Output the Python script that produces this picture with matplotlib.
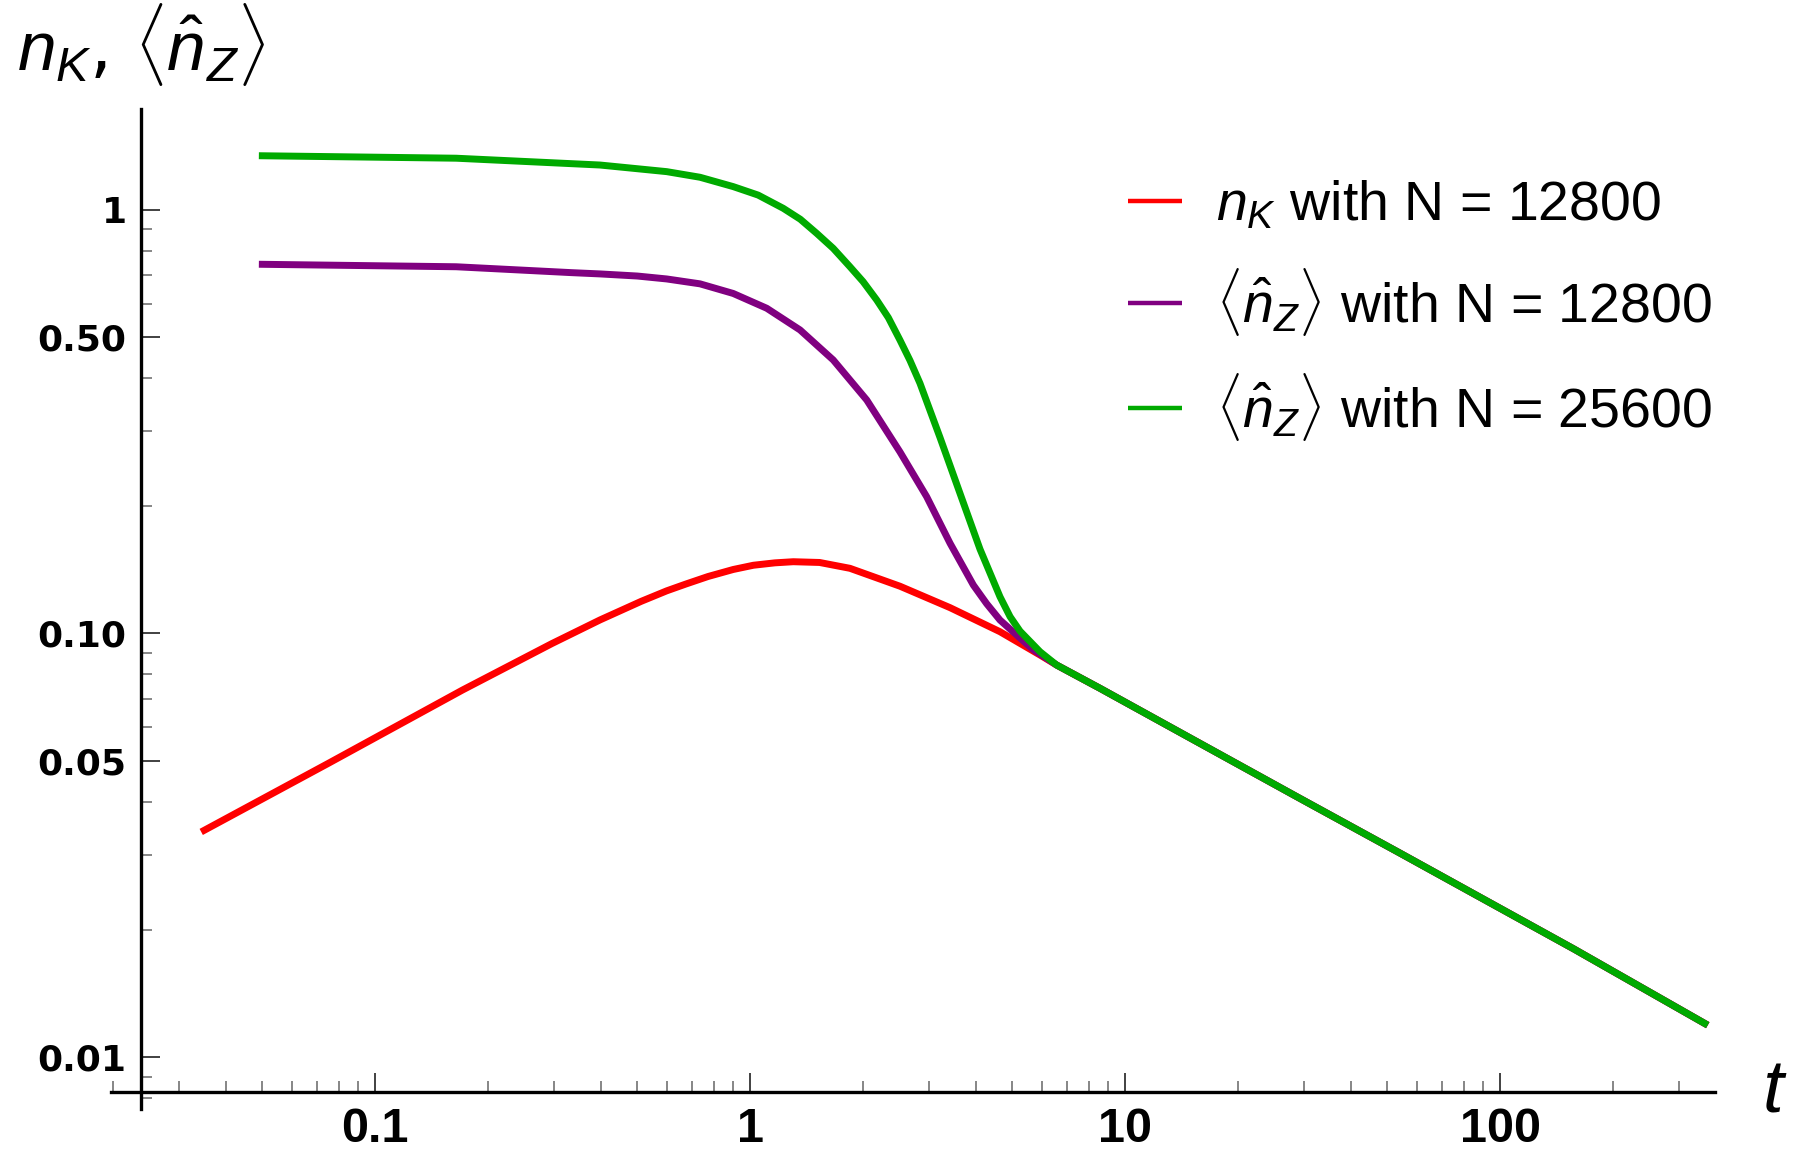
import matplotlib
matplotlib.use("Agg")
import matplotlib.pyplot as plt
from matplotlib import font_manager as fm
from matplotlib.ticker import FixedLocator, FixedFormatter, LogLocator, NullFormatter

plt.rcParams['mathtext.fontset'] = 'custom'
plt.rcParams['mathtext.rm'] = 'Liberation Sans'
plt.rcParams['mathtext.it'] = 'Liberation Sans:italic'

# values
t_red = [0.0344, 0.0752, 0.171, 0.296, 0.398, 0.512, 0.599, 0.673, 0.772, 0.901, 1.02, 1.164, 1.303, 1.531, 1.845,
         2.508, 3.41, 4.634, 5.925, 6.56, 8.56, 15.82, 29.2, 54.0, 157, 357]
n_red = [0.034, 0.0494, 0.0735, 0.0946, 0.1076, 0.119, 0.1260, 0.1307, 0.1362, 0.1415, 0.1448, 0.1467, 0.1476, 0.147, 0.1424,
         0.1292, 0.1150, 0.1009, 0.0889, 0.0842, 0.0742, 0.0550, 0.0408, 0.0303, 0.0180, 0.0119]

t_purple = [0.049, 0.1645, 0.333, 0.398, 0.5, 0.599, 0.735, 0.901, 1.107, 1.358, 1.665, 2.045, 2.508, 2.954, 3.41, 3.935,
            4.27, 4.634, 5.241, 5.685, 6.56, 8.56, 15.82, 29.2, 54.0, 157, 357]
n_purple = [0.743, 0.733, 0.710, 0.705, 0.697, 0.686, 0.668, 0.634, 0.585, 0.520, 0.4417, 0.3554, 0.268, 0.2102, 0.1632, 0.1300,
            0.1175, 0.1075, 0.0975, 0.0915, 0.0842, 0.0742, 0.0550, 0.0408, 0.0303, 0.0180, 0.0119]

t_green = [0.049, 0.1645, 0.3977, 0.599, 0.735, 0.901, 1.05, 1.225, 1.36, 1.504, 1.665, 1.845, 2.0, 2.174, 2.335, 2.508,
           2.667, 2.836, 3.206, 3.625, 4.099, 4.634, 4.93, 5.241, 5.925, 6.56, 8.56, 15.82, 29.2, 54.0, 157, 357]
n_green = [1.34, 1.322, 1.274, 1.229, 1.192, 1.133, 1.082, 1.007, 0.949, 0.879, 0.810, 0.733, 0.676, 0.612, 0.556, 0.492,
           0.4405, 0.389, 0.290, 0.214, 0.158, 0.122, 0.1095, 0.1012, 0.0905, 0.0842, 0.0742, 0.0550, 0.0408, 0.0303, 0.0180, 0.0119]

labels = [r'$n_K$ with N = 12800', r'$\langle\hat{n}_Z\rangle$ with N = 12800', r'$\langle\hat{n}_Z\rangle$ with N = 25600']
colors = ['#ff0000', '#800080', '#00aa00']

xticks = [0.1, 1, 10, 100]
xticklabels = ['0.1', '1', '10', '100']
yticks = [0.01, 0.05, 0.1, 0.5, 1]
yticklabels = ['0.01', '0.05', '0.10', '0.50', '1']

names = {f.name for f in fm.fontManager.ttflist}
narrow = 'Liberation Sans Narrow' if 'Liberation Sans Narrow' in names else 'Liberation Sans'

fig = plt.figure(figsize=(17.96, 11.54), dpi=100)
ax = fig.add_axes([0.0618, 0.0393, 0.8931, 0.8665])

for t, n, c, lab in zip([t_red, t_purple, t_green], [n_red, n_purple, n_green], colors, labels):
    ax.plot(t, n, color=c, lw=5, label=lab, solid_capstyle='butt', solid_joinstyle='round')

ax.set_xscale('log')
ax.set_yscale('log')
ax.set_xlim(0.01977, 373.3)
ax.set_ylim(0.00756, 1.73)

ax.spines['top'].set_visible(False)
ax.spines['right'].set_visible(False)
ax.spines['left'].set_position(('data', 0.0237))
ax.spines['bottom'].set_position(('data', 0.00828))
for s in ['left', 'bottom']:
    ax.spines[s].set_linewidth(2.4)

ax.xaxis.set_major_locator(FixedLocator(xticks))
ax.xaxis.set_major_formatter(FixedFormatter(xticklabels))
ax.xaxis.set_minor_locator(LogLocator(base=10, subs=range(2, 10)))
ax.xaxis.set_minor_formatter(NullFormatter())
ax.yaxis.set_major_locator(FixedLocator(yticks))
ax.yaxis.set_major_formatter(FixedFormatter(yticklabels))
ax.yaxis.set_minor_locator(LogLocator(base=10, subs=range(2, 10)))
ax.yaxis.set_minor_formatter(NullFormatter())

ax.tick_params(which='major', direction='in', length=14, width=1.3, color='#333333')
ax.tick_params(which='minor', direction='in', length=8, width=1.1, color='#666666')
ax.tick_params(axis='x', which='major', pad=11)
ax.tick_params(axis='y', which='major', pad=10)

for lb in ax.get_xticklabels():
    lb.set_fontfamily(narrow)
    lb.set_fontweight('bold')
    lb.set_fontsize(35)
for lb in ax.get_yticklabels():
    lb.set_fontfamily('DejaVu Sans')
    lb.set_fontweight('bold')
    lb.set_fontsize(26)

leg = ax.legend(loc='upper left', bbox_to_anchor=(1128 / 1796, 1 - 180 / 1154), bbox_transform=fig.transFigure,
                frameon=False, prop={'family': 'Liberation Sans', 'size': 40},
                handlelength=0.98, handletextpad=0.6, labelspacing=0.6, borderpad=0, borderaxespad=0)
for h in leg.get_lines():
    h.set_linewidth(3.2)

fig.text(17 / 1796, 1 - 71 / 1154, r'$n_K$, $\langle\hat{n}_Z\rangle$', fontsize=50, ha='left', va='baseline')
fig.text(1762 / 1796, 1 - 1112 / 1154, r'$t$', fontsize=54, ha='left', va='baseline')

fig.savefig('out.png', dpi=100)
